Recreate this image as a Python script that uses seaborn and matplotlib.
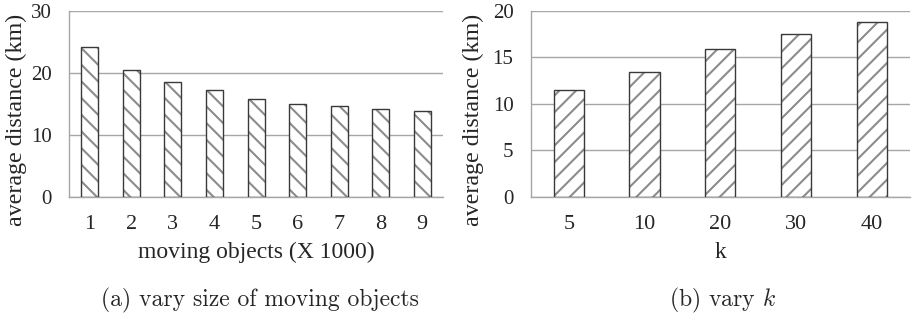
import numpy as np
import pandas as pd
import matplotlib
matplotlib.use("Agg")
import matplotlib.pyplot as plt
import seaborn as sns

# data
objects = ["1", "2", "3", "4", "5", "6", "7", "8", "9"]
dist_objects = [24.1, 20.4, 18.5, 17.2, 15.75, 14.9, 14.6, 14.1, 13.8]
k_values = ["5", "10", "20", "30", "40"]
dist_k = [11.45, 13.4, 15.9, 17.5, 18.8]

sns.set_style("white")
plt.rcParams["font.family"] = ["Liberation Serif", "DejaVu Serif"]
plt.rcParams["mathtext.fontset"] = "cm"
plt.rcParams["hatch.linewidth"] = 1.5

grid_c = "#a6a6a6"
edge_c = "#3a3a3a"
hatch_c = "#8c8c8c"

fig = plt.figure(figsize=(9.17, 3.2), dpi=100)
ax1 = fig.add_axes([0.0752, 0.385, 0.408, 0.581])
ax2 = fig.add_axes([0.579, 0.385, 0.413, 0.581])

df1 = pd.DataFrame({"x": objects, "y": dist_objects})
df2 = pd.DataFrame({"x": k_values, "y": dist_k})


def draw(ax, df, hatch, width, ymax, step, xlabel, lab_x):
    # hatched fill, then a dark outline on top
    sns.barplot(data=df, x="x", y="y", ax=ax, color="white", width=width,
                edgecolor=hatch_c, linewidth=0, hatch=hatch, zorder=2)
    sns.barplot(data=df, x="x", y="y", ax=ax, fill=False, width=width,
                edgecolor=edge_c, linewidth=1.0, zorder=3)
    n = len(df)
    ax.set_xlim(-0.5, n - 0.5)
    ax.set_ylim(0, ymax)
    ax.set_yticks(np.arange(0, ymax + 1, step))
    ax.yaxis.grid(True, color=grid_c, linewidth=1.0, zorder=0)
    ax.set_axisbelow(True)
    for s in ["top", "right"]:
        ax.spines[s].set_visible(False)
    for s in ["left", "bottom"]:
        ax.spines[s].set_color(grid_c)
        ax.spines[s].set_linewidth(1.0)
    ax.set_xticks(np.arange(-0.5, n, 1.0), minor=True)
    ax.tick_params(axis="x", which="major", length=0, pad=13, labelsize=16)
    ax.tick_params(axis="x", which="minor", length=3.6, color=grid_c, width=1.0)
    ax.tick_params(axis="y", which="major", length=3.6, color=grid_c, width=1.0,
                   pad=9, labelsize=15)
    ax.set_ylabel("average distance (km)", fontsize=17.3)
    ax.yaxis.set_label_coords(lab_x, 0.415)
    ax.set_xlabel(xlabel, fontsize=17, labelpad=6)


draw(ax1, df1, "\\\\", 0.41, 30, 10, "moving objects (X 1000)", -0.113)
draw(ax2, df2, "//", 0.40, 20, 5, "k", -0.123)

cap = dict(fontsize=17, family="cmr10", ha="center", va="center")
fig.text(260 / 917, 1 - 300 / 320, "(a) vary size of moving objects", **cap)
fig.text(723 / 917, 1 - 300 / 320, r"(b) vary $k$", **cap)

fig.savefig("out.png", dpi=100)
